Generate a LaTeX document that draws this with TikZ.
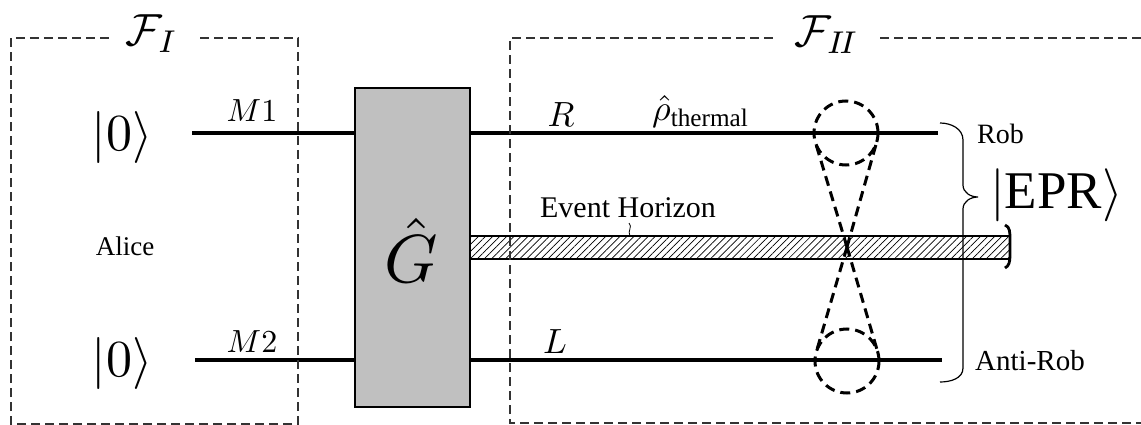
\documentclass[tikz,border=0pt]{standalone}
\usepackage{amsmath}
\usepackage{graphicx}
\usepackage{fontspec}
\setmainfont{Liberation Serif}
\usetikzlibrary{patterns.meta,calc}
\newcommand\fsz[1]{\fontsize{#1}{#1}\selectfont}
\newcommand\mbx[2]{\scalebox{#1}{$#2$}}
\definecolor{gategray}{RGB}{192,192,192}
\begin{document}
\begin{tikzpicture}[x=1pt,y=-1pt,
  wire/.style={line width=3.4pt},
  frame/.style={line width=1.3pt, dash pattern=on 9pt off 5pt, black!80},
  cone/.style={line width=3pt, dash pattern=on 10pt off 6pt},
  gatebox/.style={draw, fill=gategray, line width=2.8pt, minimum width=115pt, minimum height=319pt, inner sep=0pt},
  conecircle/.style={circle, draw, cone, minimum size=64pt, inner sep=0pt, outer sep=0pt},
  lbl/.style={inner sep=0pt}
]
\useasboundingbox (0,0) rectangle (1141,425);

% gate
\node[gatebox] (G) at (412.5,247.5) {};
\node[lbl] (Glbl) at (411,250) {\mbx{6.8}{\hat{G}}};

% wire starts / ends
\coordinate (m1) at (192,133);
\coordinate (m2) at (195,360);
\coordinate (rend) at (938,133);
\coordinate (lend) at (942,360);

\draw[wire] (m1) -- (m1 -| G.west);
\draw[wire] (m2) -- (m2 -| G.west);
\draw[wire] (rend -| G.east) -- (rend);
\draw[wire] (lend -| G.east) -- (lend);

% event horizon bar
\coordinate (barTL) at (470,236);
\coordinate (barBR) at (1010,259);
\fill[pattern={Lines[angle=45,distance=5pt,line width=0.7pt]}] (barTL) rectangle (barBR);
\draw[line width=2.8pt] (barTL) -- (barTL -| barBR);
\draw[line width=2.8pt] (barTL |- barBR) -- (barBR);
\draw[line width=2.8pt] (1005,225) .. controls (1010,227) and (1010,232) .. (1010,240)
   -- (1010,255) .. controls (1010,262) and (1009,266) .. (1005,268);

% event horizon label and leader
\node[lbl] (EH) at (628,208) {\fsz{30}Event Horizon};
\draw[line width=0.8pt] (629,223) .. controls (633,227) and (627,231) .. (630,236);

% frames
\draw[frame] (200,38) -- (298,38) -- (298,424) -- (11,424) -- (11,38) -- (110,38);
\draw[frame] (880,38) -- (1145,38);
\draw[frame] (1145,423) -- (510,423) -- (510,38) -- (775,38);
\node[lbl] (FI) at (152,34) {\mbx{4.5}{\mathcal{F}_I}};
\node[lbl] (FII) at (827,35) {\mbx{4.5}{\mathcal{F}_{I\!I}}};

% cones
\node[conecircle] (c1) at (846,133) {};
\node[conecircle] (c2) at (847,361) {};
\coordinate (X) at (847,247);
\draw[cone] (X) -- (tangent cs:node=c1,point={(X)},solution=1);
\draw[cone] (X) -- (tangent cs:node=c1,point={(X)},solution=2);
\draw[cone] (X) -- (tangent cs:node=c2,point={(X)},solution=1);
\draw[cone] (X) -- (tangent cs:node=c2,point={(X)},solution=2);

% brace
\draw[line width=1.2pt] (940,123) to[out=0,in=90] (963,140) -- (963,185)
   to[out=-90,in=180] (978,197) to[out=180,in=90] (963,209) -- (963,368)
   to[out=-90,in=0] (940,382);

% labels
\node[lbl] (k1) at (122,137) {\mbx{5.2}{|0\rangle}};
\node[lbl] (k2) at (122,363) {\mbx{5.2}{|0\rangle}};
\node[lbl,anchor=base] (M1) at (252,122) {\mbx{3.2}{M1}};
\node[lbl,anchor=base] (M2) at (252,352) {\mbx{3.2}{M2}};
\node[lbl,anchor=base] (R) at (561,127) {\mbx{3.5}{R}};
\node[lbl,anchor=base] (L) at (555,353) {\mbx{3.5}{L}};
\node[lbl,anchor=base west] (rho) at (652,121) {\mbx{3.6}{\hat{\rho}_{\mathrm{thermal}}}};
\node[lbl] (alice) at (125,246) {\fsz{27}Alice};
\node[lbl,anchor=west] (rob) at (977,134) {\fsz{28}Rob};
\node[lbl,anchor=west] (arob) at (975,361) {\fsz{29}Anti-Rob};
\node[lbl,anchor=west] (epr) at (990,195) {\mbx{5.3}{|\mathrm{EPR}\rangle}};
\end{tikzpicture}
\end{document}
